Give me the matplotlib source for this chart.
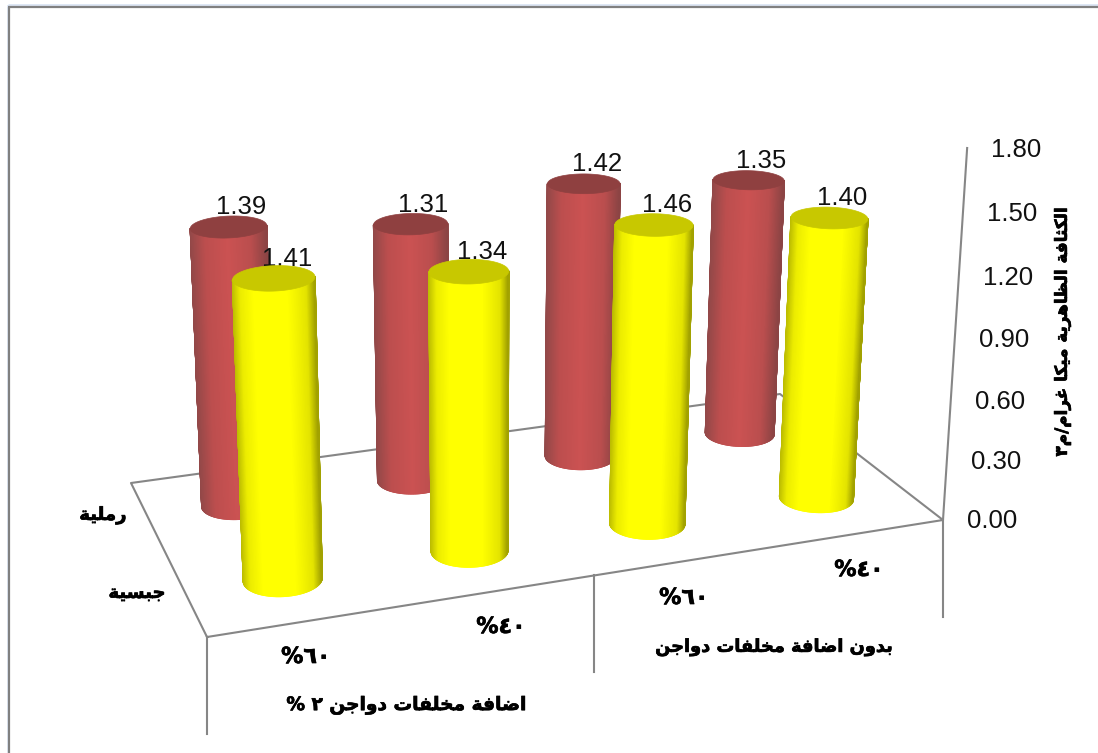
import numpy as np
import matplotlib
matplotlib.use("Agg")
import matplotlib.pyplot as plt
import matplotlib.patheffects as pe
from matplotlib.collections import PolyCollection

# bulk density per treatment, one list per soil type
red_values = [1.39, 1.31, 1.42, 1.35]
yellow_values = [1.41, 1.34, 1.46, 1.40]
series_names = ["جبسية", "رملية"]
categories = ["٦٠%", "٤٠%", "٦٠%", "٤٠%"]
groups = ["اضافة مخلفات دواجن ٢ %", "بدون اضافة مخلفات دواجن"]
y_ticks = [0.0, 0.3, 0.6, 0.9, 1.2, 1.5, 1.8]
y_title = "الكثافة الظاهرية ميكا غرام/م٣"

FORMS = {
    "ا": "\ufe8d\ufe8e", "د": "\ufea9\ufeaa", "ر": "\ufead\ufeae", "و": "\ufeed\ufeee",
    "ة": "\ufe93\ufe94", "ب": "\ufe8f\ufe90\ufe91\ufe92", "ت": "\ufe95\ufe96\ufe97\ufe98",
    "ث": "\ufe99\ufe9a\ufe9b\ufe9c", "ج": "\ufe9d\ufe9e\ufe9f\ufea0", "خ": "\ufea5\ufea6\ufea7\ufea8",
    "س": "\ufeb1\ufeb2\ufeb3\ufeb4", "ض": "\ufebd\ufebe\ufebf\ufec0", "ظ": "\ufec5\ufec6\ufec7\ufec8",
    "غ": "\ufecd\ufece\ufecf\ufed0", "ف": "\ufed1\ufed2\ufed3\ufed4", "ق": "\ufed5\ufed6\ufed7\ufed8",
    "ك": "\ufed9\ufeda\ufedb\ufedc", "ل": "\ufedd\ufede\ufedf\ufee0", "م": "\ufee1\ufee2\ufee3\ufee4",
    "ن": "\ufee5\ufee6\ufee7\ufee8", "ه": "\ufee9\ufeea\ufeeb\ufeec", "ي": "\ufef1\ufef2\ufef3\ufef4",
}


def arabic(text):
    # matplotlib has no bidi or shaping, so pick the joined glyphs and reverse
    out = []
    for i, ch in enumerate(text):
        if ch not in FORMS:
            out.append(ch)
            continue
        prev = text[i - 1] if i > 0 else ""
        nxt = text[i + 1] if i + 1 < len(text) else ""
        forms = FORMS[ch]
        join_prev = prev in FORMS and len(FORMS[prev]) == 4
        join_next = nxt in FORMS and len(forms) == 4
        if join_prev and join_next:
            out.append(forms[3])
        elif join_prev:
            out.append(forms[1])
        elif join_next:
            out.append(forms[2])
        else:
            out.append(forms[0])
    out = out[::-1]
    # digit runs keep their reading order
    i = 0
    while i < len(out):
        j = i
        while j < len(out) and "\u0660" <= out[j] <= "\u0669":
            j += 1
        if j > i:
            out[i:j] = out[i:j][::-1]
            i = j
        else:
            i += 1
    return "".join(out)


# camera: floor corners on screen and the vanishing point of the verticals
floor_px = np.array([[207, 637], [943, 520], [780, 394], [131, 483]], float)
floor_xy = np.array([[0, 0], [4, 0], [4, 2], [0, 2]], float)
vanish = np.array([490.0, 7500.0, 1.0])
z_max = y_ticks[-1]
axis_top_y = 148.0

A = []
b = []
for (X, Y), (u, v) in zip(floor_xy, floor_px):
    A.append([X, Y, 1, 0, 0, 0, -u * X, -u * Y])
    A.append([0, 0, 0, X, Y, 1, -v * X, -v * Y])
    b += [u, v]
H = np.append(np.linalg.solve(np.array(A), np.array(b)), 1.0).reshape(3, 3)
w_corner = (H @ [4, 0, 1])[2]
k = w_corner * (axis_top_y - floor_px[1, 1]) / (z_max * (vanish[1] - axis_top_y))


def project(x, y, z):
    x, y, z = np.broadcast_arrays(np.asarray(x, float), np.asarray(y, float), np.asarray(z, float))
    p = np.stack([x, y, np.ones_like(x)], axis=-1) @ H.T + (z * k)[..., None] * vanish
    return p[..., 0] / p[..., 2], p[..., 1] / p[..., 2]


def shade(t, stops, colors):
    return np.array([np.interp(t, stops, np.array(colors)[:, c]) for c in range(3)]).T / 255


def cylinder(ax, x0, y0, value, stops, colors, cap, zorder):
    th = np.linspace(0, 2 * np.pi, 321)
    cx = x0 + RX * np.cos(th)
    cy = y0 + RY * np.sin(th)
    bx, by = project(cx, cy, 0 * cx)
    tx, ty = project(cx, cy, value + 0 * cx)
    # only the side facing the viewer, below the left-right chord of the base
    li, ri = np.argmin(bx), np.argmax(bx)
    chord = by[li] + (by[ri] - by[li]) * (bx - bx[li]) / (bx[ri] - bx[li])
    front = np.where(by[:-1] >= chord[:-1] - 0.5)[0]
    t = (0.5 * (bx[:-1] + bx[1:]) - bx.min()) / (bx.max() - bx.min())
    quads = [[(bx[i], by[i]), (bx[i + 1], by[i + 1]), (tx[i + 1], ty[i + 1]), (tx[i], ty[i])] for i in front]
    fc = shade(t[front], stops, colors)
    # wide strokes close the hairline seams between neighbouring strips
    ax.add_collection(PolyCollection(quads, facecolors=fc, edgecolors=fc, linewidths=0.9, zorder=zorder))
    ax.fill(tx, ty, color=cap, lw=0.5, zorder=zorder + 0.1)


RX = 0.2
RY = 0.2
YELLOW_ROW = 0.5
RED_ROW = 1.5
GRAY = "#868686"
DIGITS = "Liberation Sans"
ARABIC = "DejaVu Sans"
HEAVY = [pe.withStroke(linewidth=0.5, foreground="black")]

red_stops = [0, 0.2, 0.5, 0.8, 1]
red_colors = [(146, 72, 72), (188, 78, 78), (203, 82, 82), (186, 78, 78), (140, 68, 68)]
yellow_stops = [0, 0.1, 0.26, 0.68, 0.9, 1]
yellow_colors = [(188, 188, 0), (236, 236, 0), (255, 255, 0), (255, 255, 0), (228, 228, 0), (162, 162, 0)]

fig = plt.figure(figsize=(10.98, 7.53), dpi=100)
ax = fig.add_axes([0, 0, 1, 1])
ax.set_xlim(0, 1098)
ax.set_ylim(753, 0)
ax.axis("off")

# window border
ax.plot([7.5, 7.5], [5, 753], color="#dbe5f3", lw=1.2, solid_capstyle="butt")
ax.plot([7.5, 1098], [5, 5], color="#dbe5f3", lw=2, solid_capstyle="butt")
ax.plot([9, 9], [7, 753], color="#808080", lw=1.6, solid_capstyle="butt")
ax.plot([8, 1098], [7, 7], color="#808080", lw=1.6, solid_capstyle="butt")

# floor outline, value axis and the category separators
fx, fy = project([0, 4, 4, 0, 0], [0, 0, 2, 2, 0], [0, 0, 0, 0, 0])
ax.plot(fx, fy, color=GRAY, lw=1.5, zorder=1)
ax_x, ax_y = project([4, 4], [0, 0], [0, z_max])
ax.plot(ax_x, ax_y, color=GRAY, lw=1.5, zorder=1)
for xs in [0, 2, 4]:
    sx, sy = project(xs, 0, 0)
    ax.plot([sx, sx], [sy, sy + 97], color=GRAY, lw=1.5, zorder=1)

# value axis labels
for tick in y_ticks:
    tx, ty = project(4, 0, tick)
    ax.text(tx + 49, ty + 1.5, f"{tick:.2f}", family=DIGITS, fontsize=18.5, ha="center", va="center", color="#111111")
ax.text(1062, 332, arabic(y_title), family=ARABIC, weight="bold", fontsize=12.1, rotation=90,
        ha="center", va="center", color="black", path_effects=HEAVY)

# back row first, then the front row on top of it
for row, vals, stops, colors, cap, base in [
    (RED_ROW, red_values, red_stops, red_colors, "#8f4040", 3),
    (YELLOW_ROW, yellow_values, yellow_stops, yellow_colors, "#c8c800", 6),
]:
    for i, val in enumerate(vals):
        lx, ly = project(i + 0.5, row, val)
        ax.text(lx + 13, ly - 19.5, f"{val:.2f}", family=DIGITS, fontsize=18.5, ha="center", va="center",
                color="#111111", zorder=base)
    for i, val in enumerate(vals):
        cylinder(ax, i + 0.5, row, val, stops, colors, cap, base + 1)

# category, group and series labels
cat_pos = [(306, 657), (501, 627), (684, 598), (859, 570)]
for (px, py), name in zip(cat_pos, categories):
    ax.text(px, py, arabic(name), family=ARABIC, weight="bold", fontsize=16, ha="center", va="center",
            color="black", path_effects=HEAVY)
group_pos = [(407, 705), (774, 647)]
sizes = [13.4, 12.8]
for (px, py), name, size in zip(group_pos, groups, sizes):
    ax.text(px, py, arabic(name), family=ARABIC, weight="bold", fontsize=size, ha="center", va="center",
            color="black", path_effects=HEAVY)
series_pos = [(137, 593), (103, 515)]
for (px, py), name in zip(series_pos, series_names):
    ax.text(px, py, arabic(name), family=ARABIC, weight="bold", fontsize=13, ha="center", va="center",
            color="black", path_effects=HEAVY)

fig.savefig("out.png", dpi=100)
